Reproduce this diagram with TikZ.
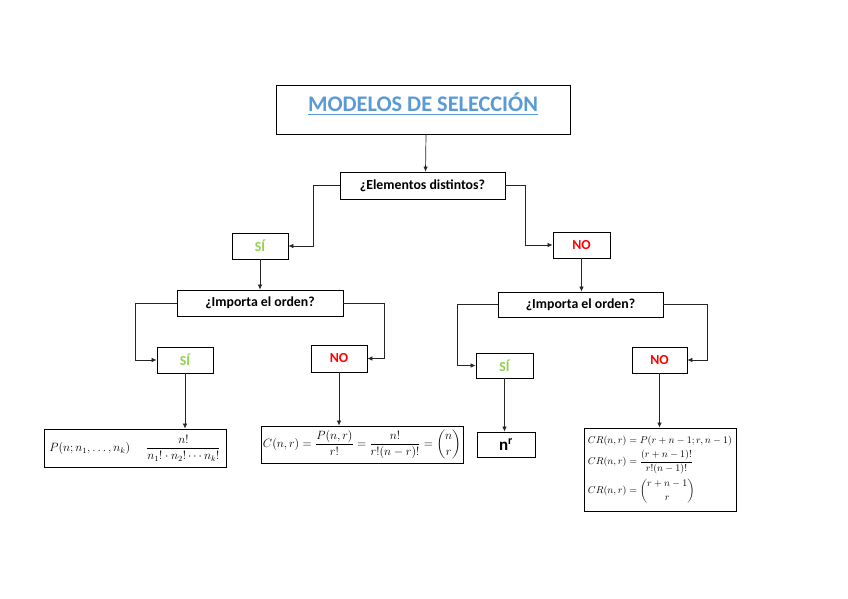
\documentclass[tikz,border=0pt]{standalone}
\usepackage{amsmath}
\usepackage{fontspec}
\setmainfont{Carlito}
\usetikzlibrary{arrows.meta}
\definecolor{titleblue}{RGB}{91,155,213}
\definecolor{sigreen}{RGB}{146,208,80}
\definecolor{nored}{RGB}{255,0,0}
\begin{document}
\begin{tikzpicture}[x=1pt,y=-1pt,
  box/.style={draw=black,line width=0.8pt,inner sep=0pt,font=\fontsize{13.8}{16}\selectfont\bfseries},
  arr/.style={draw=black!85,line width=0.7pt,-{Latex[length=5pt,width=4.5pt]}},
  sitext/.style={text=sigreen},
  notext/.style={text=nored}]
\useasboundingbox (0,0) rectangle (848,599);
\fill[white] (0,0) rectangle (848,599);
% title
\node[box,minimum width=294pt,minimum height=49pt] (title) at (423,109.5) {};
\node[inner sep=0pt,text=titleblue,font=\fontsize{22.3}{25}\selectfont\bfseries] (titletext) at (423,104) {\underline{MODELOS DE SELECCIÓN}};
% level 1
\node[box,minimum width=165pt,minimum height=27pt] (elem) at (422.5,185.5) {¿Elementos distintos?};
\node[box,sitext,minimum width=56pt,minimum height=26pt] (si1) at (260,246) {SÍ};
\node[box,notext,minimum width=57pt,minimum height=26pt] (no1) at (581.5,245) {NO};
% level 2
\node[box,minimum width=166pt,minimum height=26pt] (imp1) at (260,303) {¿Importa el orden?};
\node[box,minimum width=165pt,minimum height=25pt] (imp2) at (580.5,304.5) {¿Importa el orden?};
% level 3
\node[box,sitext,minimum width=56pt,minimum height=26pt] (si2) at (185,360) {SÍ};
\node[box,notext,minimum width=56pt,minimum height=27pt] (no2) at (339,358.5) {NO};
\node[box,sitext,minimum width=57pt,minimum height=25pt] (si3) at (504.5,365.5) {SÍ};
\node[box,notext,minimum width=55pt,minimum height=26pt] (no3) at (659.5,360) {NO};
% results
\node[box,font=\fontsize{12}{14}\selectfont,minimum width=182pt,minimum height=38pt] (f1) at (135,448)
  {$P(n;n_1,\ldots,n_k)\hspace{16pt}\displaystyle\frac{n!}{n_1!\cdot n_2!\cdots n_k!}$};
\node[box,font=\fontsize{11.5}{13}\selectfont,minimum width=202pt,minimum height=37pt] (f2) at (362,444.5)
  {$\displaystyle C(n,r)=\frac{P(n,r)}{r!}=\frac{n!}{r!(n-r)!}=\binom{n}{r}$};
\node[box,font=\fontsize{17}{19}\selectfont\bfseries,minimum width=58pt,minimum height=25pt] (nr) at (506,444.5) {n\textsuperscript{r}};
\node[box,font=\fontsize{9.8}{11}\selectfont,minimum width=152pt,minimum height=83pt,align=left] (cr) at (660,469.5)
  {$CR(n,r)=P(r+n-1;r,n-1)$\\[3pt]
   $CR(n,r)=\dfrac{(r+n-1)!}{r!(n-1)!}$\\[4pt]
   $CR(n,r)=\dbinom{r+n-1}{r}$};
% connectors
\draw[arr] ([xshift=3pt]title.south) -- ([xshift=3pt]elem.north);
\draw[arr] (elem.west) -- ++(-26,0) |- (si1.east);
\draw[arr] (elem.east) -- ++(20,0) |- (no1.west);
\draw[arr] (si1.south) -- (imp1.north);
\draw[arr] (no1.south) -- (no1.south |- imp2.north);
\draw[arr] (imp1.west) -- ++(-41,0) |- (si2.west);
\draw[arr] (imp1.east) -- ++(41,0) |- (no2.east);
\draw[arr] (imp2.west) -- ++(-40,0) |- (si3.west);
\draw[arr] (imp2.east) -- ++(44,0) |- (no3.east);
\draw[arr] (si2.south) -- (si2.south |- f1.north);
\draw[arr] (no2.south) -- (no2.south |- f2.north);
\draw[arr] (si3.south) -- (si3.south |- nr.north);
\draw[arr] (no3.south) -- (no3.south |- cr.north);
\end{tikzpicture}
\end{document}
